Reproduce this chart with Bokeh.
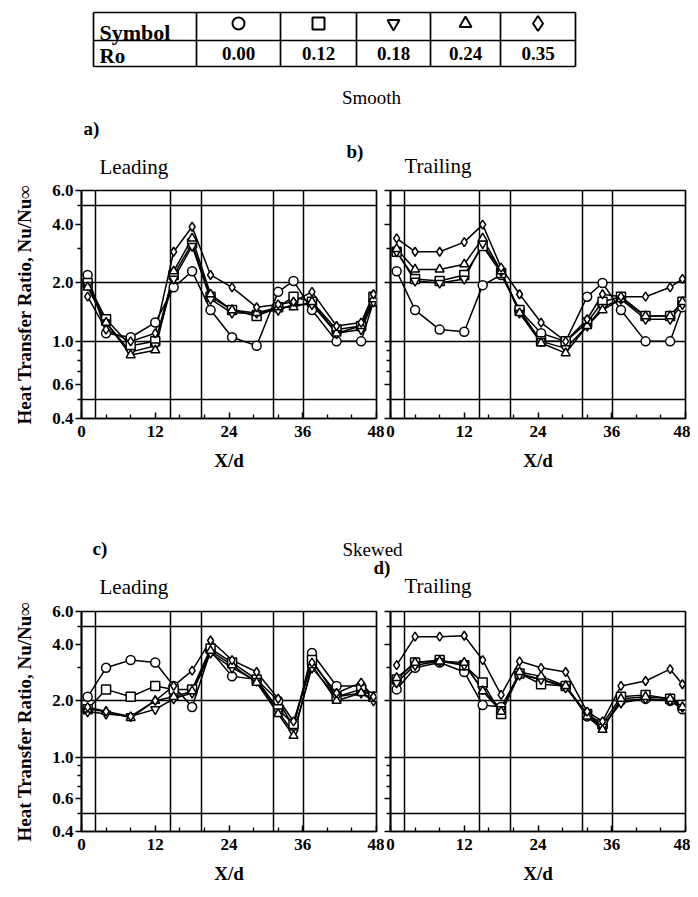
from bokeh.plotting import figure
from bokeh.layouts import column, row
from bokeh.models import Range1d, FixedTicker, PrintfTickFormatter
from bokeh.core.properties import value
from bokeh.embed import file_html
from bokeh.resources import INLINE

FONT = "Liberation Serif"

# ---------------- data ----------------
x_d = [1, 4, 8, 12, 15, 18, 21, 24.5, 28.5, 32, 34.5, 37.5, 41.5, 45.5, 47.5]
ro_labels = ["0.00", "0.12", "0.18", "0.24", "0.35"]
markers = ["circle", "square", "inverted_triangle", "triangle", "diamond"]

# a) Smooth - Leading
sl_000 = [2.2, 1.1, 1.05, 1.25, 1.9, 2.3, 1.45, 1.05, 0.95, 1.8, 2.05, 1.45, 1.0, 1.0, 1.6]
sl_012 = [2.0, 1.3, 0.95, 1.0, 2.2, 3.2, 1.7, 1.45, 1.35, 1.5, 1.7, 1.6, 1.15, 1.2, 1.7]
sl_018 = [1.95, 1.25, 0.88, 0.95, 2.1, 3.1, 1.65, 1.4, 1.4, 1.45, 1.55, 1.55, 1.1, 1.15, 1.6]
sl_024 = [1.9, 1.25, 0.85, 0.9, 2.3, 3.4, 1.75, 1.45, 1.4, 1.5, 1.5, 1.6, 1.1, 1.2, 1.65]
sl_035 = [1.7, 1.15, 1.0, 1.1, 2.9, 3.9, 2.2, 1.9, 1.5, 1.55, 1.6, 1.8, 1.2, 1.25, 1.75]

# b) Smooth - Trailing
st_000 = [2.3, 1.45, 1.15, 1.12, 1.95, 2.2, 1.45, 1.1, 1.0, 1.7, 2.0, 1.45, 1.0, 1.0, 1.5]
st_012 = [2.9, 2.1, 2.05, 2.2, 3.1, 2.25, 1.45, 1.0, 1.0, 1.25, 1.6, 1.7, 1.35, 1.35, 1.6]
st_018 = [2.9, 2.05, 2.0, 2.1, 3.2, 2.3, 1.4, 1.0, 0.92, 1.2, 1.5, 1.65, 1.3, 1.3, 1.55]
st_024 = [3.0, 2.35, 2.35, 2.5, 3.4, 2.3, 1.4, 0.98, 0.87, 1.2, 1.45, 1.65, 1.35, 1.35, 1.6]
st_035 = [3.4, 2.9, 2.9, 3.25, 4.0, 2.4, 1.75, 1.25, 1.0, 1.3, 1.75, 1.7, 1.7, 1.9, 2.1]

# c) Skewed - Leading
kl_000 = [2.1, 3.0, 3.3, 3.2, 2.4, 1.85, 3.7, 2.7, 2.6, 2.0, 1.45, 3.6, 2.4, 2.4, 2.1]
kl_012 = [1.8, 2.3, 2.1, 2.4, 2.3, 2.3, 3.8, 3.2, 2.6, 1.8, 1.5, 3.3, 2.1, 2.3, 2.1]
kl_018 = [1.75, 1.7, 1.65, 1.8, 2.05, 2.2, 3.6, 3.0, 2.55, 1.75, 1.35, 3.0, 2.1, 2.2, 2.0]
kl_024 = [1.8, 1.75, 1.62, 2.0, 2.1, 2.25, 3.7, 3.1, 2.5, 1.7, 1.3, 3.1, 2.0, 2.2, 2.05]
kl_035 = [1.85, 1.75, 1.65, 2.0, 2.4, 2.9, 4.2, 3.3, 2.85, 2.05, 1.55, 3.2, 2.2, 2.5, 2.1]

# d) Skewed - Trailing
kt_000 = [2.3, 3.0, 3.2, 2.85, 1.9, 1.85, 2.8, 2.6, 2.4, 1.65, 1.45, 2.0, 2.05, 2.0, 1.8]
kt_012 = [2.6, 3.2, 3.3, 3.1, 2.5, 1.7, 2.8, 2.45, 2.4, 1.7, 1.5, 2.1, 2.15, 2.05, 1.9]
kt_018 = [2.5, 3.1, 3.25, 3.1, 2.3, 1.8, 2.75, 2.6, 2.35, 1.7, 1.45, 1.95, 2.05, 2.0, 1.85]
kt_024 = [2.65, 3.2, 3.25, 3.2, 2.25, 1.75, 2.85, 2.7, 2.4, 1.65, 1.4, 2.05, 2.1, 2.05, 1.85]
kt_035 = [3.1, 4.4, 4.4, 4.45, 3.3, 2.15, 3.25, 3.0, 2.85, 1.75, 1.55, 2.4, 2.55, 2.95, 2.45]

x_ticks = [0, 12, 24, 36, 48]
x_minor = [4, 8, 16, 20, 28, 32, 40, 44]
y_ticks = [0.4, 0.6, 1.0, 2.0, 4.0, 6.0]
y_minor = [0.5, 0.7, 0.8, 0.9, 3.0, 5.0]
v_lines = [2.2, 14.4, 19.5, 31.2, 36.2]
h_lines = [0.5, 1.0, 2.0, 5.0]

Y_LABEL = "Heat Transfer Ratio, Nu/Nu\u221e"


def panel(series, show_ylabel, top_border, frame_h, bottom_border):
    if show_ylabel:
        w, bl, br = 384, 81, 8
    else:
        w, bl, br = 306, 6, 5
    h = top_border + frame_h + bottom_border
    p = figure(width=w, height=h, x_range=Range1d(0, 48), y_range=Range1d(0.4, 6.0),
               y_axis_type="log", output_backend="svg", toolbar_location=None,
               min_border_left=bl, min_border_right=br, min_border_top=top_border,
               min_border_bottom=bottom_border)
    p.outline_line_color = "black"
    p.outline_line_width = 1.7
    p.background_fill_color = "white"
    p.border_fill_color = "white"

    p.xaxis.ticker = FixedTicker(ticks=x_ticks, minor_ticks=x_minor)
    p.yaxis.ticker = FixedTicker(ticks=y_ticks, minor_ticks=y_minor)
    p.yaxis.formatter = PrintfTickFormatter(format="%.1f")
    p.xgrid.ticker = FixedTicker(ticks=v_lines)
    p.ygrid.ticker = FixedTicker(ticks=h_lines)
    for g in (p.xgrid, p.ygrid):
        g.grid_line_color = "black"
        g.grid_line_width = 1.5
        g.grid_line_alpha = 1.0

    for ax in (p.xaxis, p.yaxis):
        ax.axis_line_color = "black"
        ax.axis_line_width = 1.7
        ax.major_tick_line_color = "black"
        ax.minor_tick_line_color = "black"
        ax.major_tick_line_width = 1.5
        ax.minor_tick_line_width = 1.3
        ax.major_label_text_font = FONT
        ax.major_label_text_font_style = "bold"
        ax.major_label_text_font_size = "17px"
        ax.major_label_text_color = "black"
        ax.axis_label_text_font = FONT
        ax.axis_label_text_font_style = "bold"
        ax.axis_label_text_font_size = "19px"
        ax.axis_label_text_color = "black"

    p.xaxis.major_tick_in = 6
    p.xaxis.major_tick_out = 0
    p.xaxis.minor_tick_in = 4
    p.xaxis.minor_tick_out = 0
    p.xaxis.major_label_standoff = 7
    p.xaxis.axis_label = "X/d"
    p.xaxis.axis_label_standoff = 10

    p.yaxis.major_tick_in = 0
    p.yaxis.major_tick_out = 6
    p.yaxis.minor_tick_in = 0
    p.yaxis.minor_tick_out = 4
    if show_ylabel:
        p.yaxis.major_label_standoff = 2
        p.yaxis.axis_label = Y_LABEL
        p.yaxis.axis_label_standoff = 14
    else:
        p.yaxis.major_label_overrides = {t: "" for t in y_ticks}
        p.yaxis.major_label_standoff = 0
        p.yaxis.axis_label = None

    for ys in series:
        p.line(x_d, ys, line_color="black", line_width=1.5)
    for ys, m in zip(series, markers):
        p.scatter(x_d, ys, marker=m, size=9, fill_color="white",
                  line_color="black", line_width=1.5)
    return p


def canvas(y0, h):
    p = figure(width=690, height=h, x_range=Range1d(0, 690), y_range=Range1d(y0 + h, y0),
               output_backend="svg", toolbar_location=None, min_border=0,
               x_axis_location=None, y_axis_location=None)
    p.outline_line_color = None
    p.grid.visible = False
    p.background_fill_color = "white"
    p.border_fill_color = "white"
    return p


def label(p, x, y, s, size="17px", align="left", style="normal"):
    p.text(x=[x], y=[y], text=[s], text_font=value(FONT), text_font_size=size,
           text_align=align, text_baseline="middle", text_color="black",
           text_font_style=style)


# ---------------- header with legend table ----------------
top = canvas(0, 180)
col_edges = [93, 196, 280, 356, 430, 500, 575]
row_edges = [12, 40, 66]
x0s, y0s, x1s, y1s = [], [], [], []
for ry in row_edges:
    x0s.append(col_edges[0]); x1s.append(col_edges[-1]); y0s.append(ry); y1s.append(ry)
for cx in col_edges:
    x0s.append(cx); x1s.append(cx); y0s.append(row_edges[0]); y1s.append(row_edges[-1])
top.segment(x0s, y0s, x1s, y1s, line_color="black", line_width=1.7)
label(top, 99, 32, "Symbol", size="22px", style="bold")
label(top, 99, 55, "Ro", size="21px", style="bold")
centers = [(col_edges[i] + col_edges[i + 1]) / 2 for i in range(1, 6)]
table_sizes = [12, 12, 12, 12, 15]
top.scatter(centers, [23] * 5, marker=markers, size=table_sizes, fill_color="white",
            line_color="black", line_width=2)
top.text(x=centers, y=[53] * 5, text=ro_labels, text_font=value(FONT),
         text_font_size="19px", text_align="center", text_baseline="middle",
         text_font_style="bold", text_color="black")
label(top, 371, 97, "Smooth", size="19px", align="center")
label(top, 83, 128, "a)", size="19px", style="bold")
label(top, 99, 166, "Leading", size="21px")
label(top, 346, 151, "b)", size="19px", style="bold")
label(top, 404, 165, "Trailing", size="21px")

pa = panel([sl_000, sl_012, sl_018, sl_024, sl_035], True, 10, 228, 57)
pb = panel([st_000, st_012, st_018, st_024, st_035], False, 10, 228, 57)

mid = canvas(475, 125)
label(mid, 372, 549, "Skewed", size="19px", align="center")
label(mid, 92, 548, "c)", size="19px", style="bold")
label(mid, 99, 586, "Leading", size="21px")
label(mid, 373, 567, "d)", size="19px", style="bold")
label(mid, 404, 585, "Trailing", size="21px")

pc = panel([kl_000, kl_012, kl_018, kl_024, kl_035], True, 11, 220, 62)
pd = panel([kt_000, kt_012, kt_018, kt_024, kt_035], False, 11, 220, 62)

layout = column(top, row(pa, pb), mid, row(pc, pd))
open("out.html", "w").write(file_html(layout, INLINE))
